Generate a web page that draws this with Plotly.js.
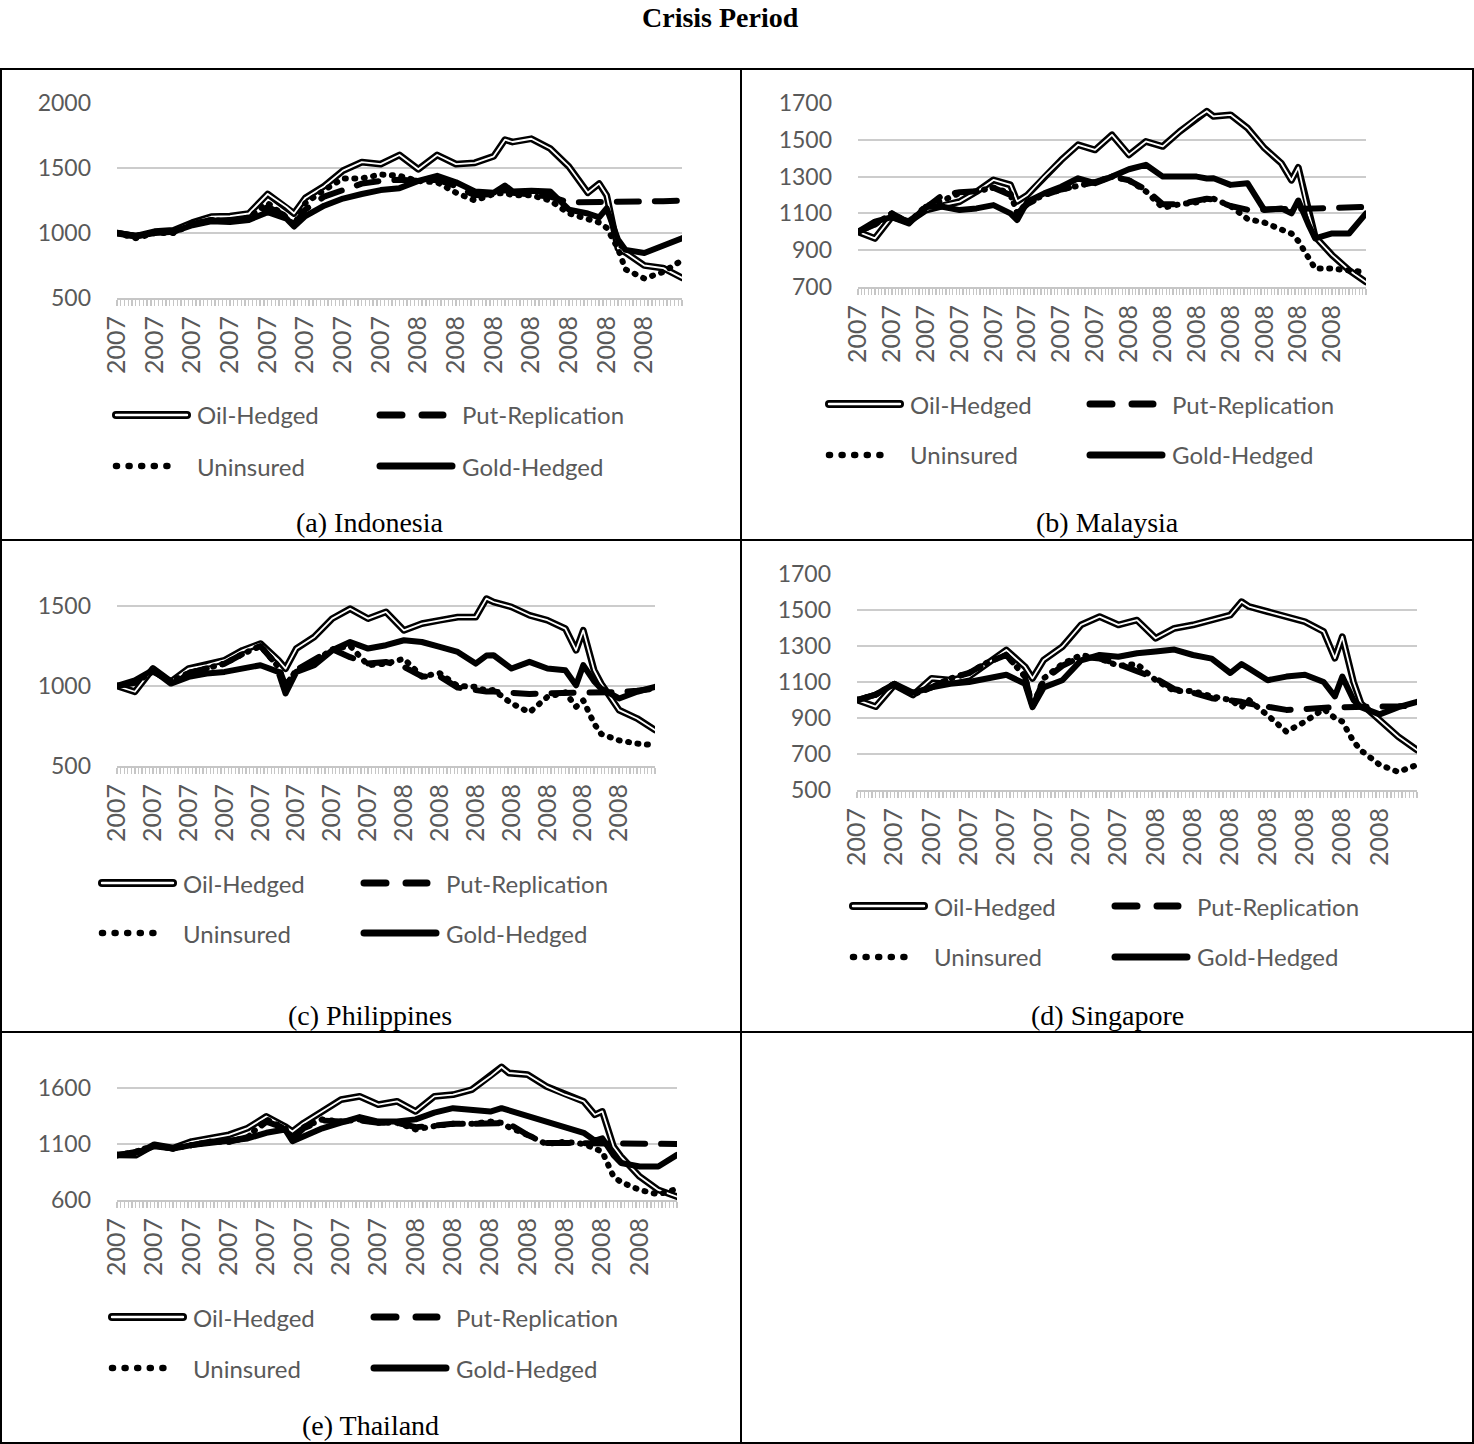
<!DOCTYPE html>
<html><head><meta charset="utf-8">
<script src="https://cdn.plot.ly/plotly-3.0.1.min.js"></script>
<style>
html,body{margin:0;padding:0;background:#fff;}
#chart{width:1474px;height:1444px;}
.js-line{stroke-linejoin:round !important;stroke-linecap:round !important;}
.shapelayer path{stroke-linecap:round !important;}
</style></head><body><div id="chart"></div>
<script>
// ---------- data ----------
const nPeriods = 151;
const xTickLabels = ["2007","2007","2007","2007","2007","2007","2007","2007","2008","2008","2008","2008","2008","2008","2008"];
const xIndex = [0,5,10,15,20,25,30,35,40,45,47,50,55,60,65,70,75,80,85,90,95,100,103,105,110,115,120,125,128,130,133,135,140,145,150];
const seriesNames = ["Oil-Hedged","Put-Replication","Uninsured","Gold-Hedged"];

// Indonesia
const idnOil   = [1000,975,1010,1020,1080,1125,1130,1150,1300,1200,1150,1270,1360,1480,1545,1530,1600,1490,1600,1530,1540,1590,1718,1700,1725,1650,1510,1310,1380,1290,880,850,750,730,655];
const idnPut   = [1000,980,1005,1010,1070,1100,1095,1110,1200,1130,1060,1180,1280,1330,1380,1400,1410,1400,1410,1360,1290,1300,1330,1310,1300,1280,1235,1235,1237,1238,1238,1240,1242,1245,1250];
const idnUnins = [1000,960,1000,1000,1070,1100,1090,1120,1230,1120,1060,1230,1330,1420,1420,1450,1440,1400,1390,1310,1250,1300,1310,1290,1290,1250,1150,1100,1080,1040,880,720,650,700,790];
const idnGold  = [1000,975,1000,1010,1060,1090,1085,1100,1160,1110,1050,1130,1210,1265,1300,1330,1345,1400,1440,1390,1320,1310,1365,1320,1325,1320,1180,1150,1120,1190,950,870,846,900,960];
// Malaysia
const mysOil   = [1000,964,1082,1055,1118,1145,1164,1218,1282,1255,1165,1200,1300,1390,1473,1445,1527,1418,1491,1464,1545,1618,1655,1627,1636,1564,1455,1373,1280,1350,1100,973,873,791,727];
const mysPut   = [1000,1040,1100,1050,1130,1200,1215,1220,1240,1200,1100,1150,1200,1230,1250,1270,1300,1280,1230,1150,1150,1165,1180,1175,1140,1120,1120,1122,1125,1125,1126,1127,1130,1130,1135];
const mysUnins = [1000,1040,1100,1050,1140,1170,1210,1220,1240,1210,1100,1160,1200,1230,1250,1270,1300,1280,1220,1130,1150,1160,1180,1180,1140,1070,1050,1010,990,950,860,800,800,790,780];
const mysGold  = [1000,1055,1080,1045,1136,1136,1118,1127,1145,1100,1064,1164,1209,1245,1291,1264,1300,1340,1364,1300,1300,1300,1290,1291,1255,1264,1118,1127,1100,1170,1040,964,991,991,1100];
// Philippines
const phlOil   = [1000,964,1109,1026,1109,1130,1161,1223,1265,1161,1109,1234,1307,1421,1483,1421,1463,1348,1390,1411,1431,1430,1546,1525,1494,1442,1411,1359,1223,1348,1100,1015,849,797,725];
const phlPut   = [1000,1020,1090,1030,1080,1110,1140,1200,1250,1120,1000,1100,1160,1230,1180,1140,1150,1120,1060,1060,990,970,965,965,960,950,955,955,958,960,960,960,962,970,985];
const phlUnins = [1000,1020,1090,1030,1080,1110,1140,1200,1250,1120,1000,1100,1150,1230,1250,1130,1140,1170,1060,1080,1000,995,970,975,891,835,932,960,870,910,766,700,660,640,630];
const phlGold  = [1000,1036,1100,1015,1057,1078,1088,1109,1130,1088,953,1088,1130,1223,1275,1234,1255,1286,1275,1244,1213,1140,1190,1192,1109,1151,1109,1099,1004,1130,1030,983,922,964,995];
// Singapore
const sgpOil   = [1000,963,1083,1028,1120,1111,1130,1204,1278,1185,1120,1222,1296,1417,1463,1417,1444,1343,1398,1417,1444,1472,1546,1519,1491,1463,1435,1380,1232,1352,1100,981,889,796,722];
const sgpPut   = [1000,1030,1090,1030,1070,1120,1150,1210,1250,1130,960,1110,1190,1240,1230,1200,1160,1120,1060,1040,1010,1000,990,980,960,945,950,960,960,960,960,960,960,965,970];
const sgpUnins = [1000,1030,1090,1030,1070,1120,1150,1210,1250,1130,960,1120,1200,1250,1230,1190,1200,1110,1050,1050,1020,1000,960,1000,915,824,880,950,900,880,770,720,640,600,640];
const sgpGold  = [1000,1030,1090,1040,1070,1090,1100,1120,1140,1090,960,1070,1110,1220,1250,1240,1260,1270,1280,1250,1230,1150,1200,1175,1110,1130,1140,1100,1020,1130,1000,960,920,960,990];
// Thailand
const thaOil   = [1003,1000,1093,1063,1122,1152,1182,1242,1346,1257,1212,1287,1391,1496,1525,1451,1481,1391,1525,1540,1585,1704,1788,1734,1719,1615,1540,1481,1361,1391,1078,988,809,690,630];
const thaPut   = [1000,1030,1090,1060,1090,1120,1120,1160,1300,1240,1150,1240,1310,1300,1310,1290,1290,1250,1265,1280,1280,1290,1285,1280,1180,1110,1110,1105,1102,1100,1100,1100,1100,1100,1100];
const thaUnins = [1000,1030,1090,1060,1090,1120,1120,1160,1320,1240,1150,1250,1320,1300,1320,1290,1290,1230,1260,1280,1280,1300,1290,1250,1180,1100,1120,1100,1060,1030,809,760,690,650,700];
const thaGold  = [1000,1020,1080,1060,1090,1110,1120,1150,1200,1230,1125,1170,1240,1290,1340,1300,1300,1320,1380,1420,1400,1390,1420,1400,1340,1300,1250,1200,1130,1150,1000,930,899,899,1003];

// ---------- layout helpers ----------
const W = 1474, H = 1444;
const fx = p => p / W, fy = p => 1 - p / H;

const panels = [
  {caption:'(a) Indonesia',   data:[idnOil,idnPut,idnUnins,idnGold], box:{l:117,r:682,t:103,b:298},  range:[500,2000], dtick:500, leg:{c1:113,c2:377,r1:415,r2:466}, cap:{x:370,y:522}},
  {caption:'(b) Malaysia',    data:[mysOil,mysPut,mysUnins,mysGold], box:{l:858,r:1366,t:103,b:287}, range:[700,1700], dtick:200, leg:{c1:826,c2:1087,r1:404,r2:455}, cap:{x:1107,y:522}},
  {caption:'(c) Philippines', data:[phlOil,phlPut,phlUnins,phlGold], box:{l:117,r:655,t:590,b:766},  range:[500,1600], dtick:500, leg:{c1:99,c2:361,r1:883,r2:933},  cap:{x:370,y:1015}},
  {caption:'(d) Singapore',   data:[sgpOil,sgpPut,sgpUnins,sgpGold], box:{l:857,r:1417,t:574,b:790}, range:[500,1700], dtick:200, leg:{c1:850,c2:1112,r1:906,r2:957}, cap:{x:1107,y:1015}},
  {caption:'(e) Thailand',    data:[thaOil,thaPut,thaUnins,thaGold], box:{l:117,r:677,t:1060,b:1200},range:[600,1850], dtick:500, leg:{c1:109,c2:371,r1:1317,r2:1368},cap:{x:370,y:1425}}
];

const tickvals = [], ticktext = [];
for (let i = 0; i < nPeriods; i++) {
  tickvals.push(i);
  const li = i / 10;
  ticktext.push(i % 10 === 0 && li < xTickLabels.length ? xTickLabels[li] : '');
}

const traces = [];
const shapes = [];
const annotations = [];
const layout = {
  width: W, height: H, autosize: false,
  margin: {l:0, r:0, t:0, b:0},
  paper_bgcolor: '#ffffff', plot_bgcolor: '#ffffff',
  showlegend: false
};

const lineW = 6;
const putDash = '22px,16px';
const dotDash = '1px,8.5px';
const labelFont = {family:'Lato, "Open Sans", sans-serif', size:24, color:'#595959'};

panels.forEach((p, k) => {
  const sfx = k === 0 ? '' : String(k + 1);
  const xa = 'x' + sfx, ya = 'y' + sfx;
  const [oil, put, unins, gold] = p.data;
  const base = {x:xIndex, xaxis:xa, yaxis:ya, mode:'lines', hoverinfo:'skip', showlegend:false};
  traces.push(Object.assign({}, base, {y:oil, name:seriesNames[0], line:{color:'#000000', width:6.8}}));
  traces.push(Object.assign({}, base, {y:oil, name:seriesNames[0], line:{color:'#ffffff', width:1.8}}));
  traces.push(Object.assign({}, base, {y:put, name:seriesNames[1], line:{color:'#000000', width:lineW, dash:putDash}}));
  traces.push(Object.assign({}, base, {y:unins, name:seriesNames[2], line:{color:'#000000', width:lineW, dash:dotDash}}));
  traces.push(Object.assign({}, base, {y:gold, name:seriesNames[3], line:{color:'#000000', width:lineW}}));

  layout['xaxis' + sfx] = {
    domain:[fx(p.box.l), fx(p.box.r)], anchor:ya, range:[0, nPeriods - 1],
    tickmode:'array', tickvals:tickvals, ticktext:ticktext, tickangle:-90,
    ticks:'outside', ticklen:6, tickwidth:1.3, tickcolor:'#c6c6c6',
    showline:true, linecolor:'#c6c6c6', linewidth:2,
    showgrid:false, zeroline:false, fixedrange:true,
    tickfont:{family:'Lato, "Open Sans", sans-serif', size:25, color:'#595959'}
  };
  layout['yaxis' + sfx] = {
    domain:[fy(p.box.b), fy(p.box.t)], anchor:xa, range:p.range,
    tickmode:'linear', tick0:p.range[0], dtick:p.dtick,
    showgrid:true, gridcolor:'#cccccc', gridwidth:2,
    zeroline:false, showline:false, ticks:'', fixedrange:true,
    ticklabelstandoff:25,
    tickfont:{family:'Lato, "Open Sans", sans-serif', size:23, color:'#595959'}
  };

  // legend (drawn as shapes + text)
  const L = p.leg;
  const hline = (x0, x1, y, width, color, dash) => shapes.push({
    type:'line', xref:'paper', yref:'paper', layer:'above',
    x0:fx(x0), x1:fx(x1), y0:fy(y), y1:fy(y),
    line:{color:color, width:width, dash:dash || 'solid'}
  });
  // Oil-Hedged (double line)
  hline(L.c1 + 3, L.c1 + 74, L.r1, 8, '#000000');
  hline(L.c1 + 3, L.c1 + 74, L.r1, 2.4, '#ffffff');
  // Put-Replication
  hline(L.c2 + 3, L.c2 + 66, L.r1, 7, '#000000', '22px,20px');
  // Uninsured
  hline(L.c1 + 3, L.c1 + 66, L.r2, 6.5, '#000000', '1px,11.6px');
  // Gold-Hedged
  hline(L.c2 + 3, L.c2 + 75, L.r2, 7, '#000000');
  const txt = (x, y, s) => annotations.push({
    xref:'paper', yref:'paper', x:fx(x), y:fy(y), xanchor:'left', yanchor:'middle',
    text:s, showarrow:false, font:labelFont
  });
  txt(L.c1 + 82, L.r1, seriesNames[0]);
  txt(L.c2 + 83, L.r1, seriesNames[1]);
  txt(L.c1 + 82, L.r2, seriesNames[2]);
  txt(L.c2 + 83, L.r2, seriesNames[3]);

  annotations.push({
    xref:'paper', yref:'paper', x:fx(p.cap.x), y:fy(p.cap.y), xanchor:'center', yanchor:'middle',
    text:p.caption, showarrow:false,
    font:{family:'"Liberation Serif", "Times New Roman", serif', size:28, color:'#000000'}
  });
});

// title
annotations.push({
  xref:'paper', yref:'paper', x:fx(720), y:fy(17), xanchor:'center', yanchor:'middle',
  text:'<b>Crisis Period</b>', showarrow:false,
  font:{family:'"Liberation Serif", "Times New Roman", serif', size:28, color:'#000000'}
});

// table borders
const border = {color:'#000000', width:2};
shapes.push({type:'rect', xref:'paper', yref:'paper', x0:fx(1), x1:fx(1473), y0:fy(1443), y1:fy(69), line:border, layer:'above'});
shapes.push({type:'line', xref:'paper', yref:'paper', x0:fx(741), x1:fx(741), y0:fy(1443), y1:fy(69), line:border, layer:'above'});
shapes.push({type:'line', xref:'paper', yref:'paper', x0:fx(1), x1:fx(1473), y0:fy(540), y1:fy(540), line:border, layer:'above'});
shapes.push({type:'line', xref:'paper', yref:'paper', x0:fx(1), x1:fx(1473), y0:fy(1032), y1:fy(1032), line:border, layer:'above'});

layout.shapes = shapes;
layout.annotations = annotations;

Plotly.newPlot('chart', traces, layout, {staticPlot:true, displayModeBar:false});
</script></body></html>
